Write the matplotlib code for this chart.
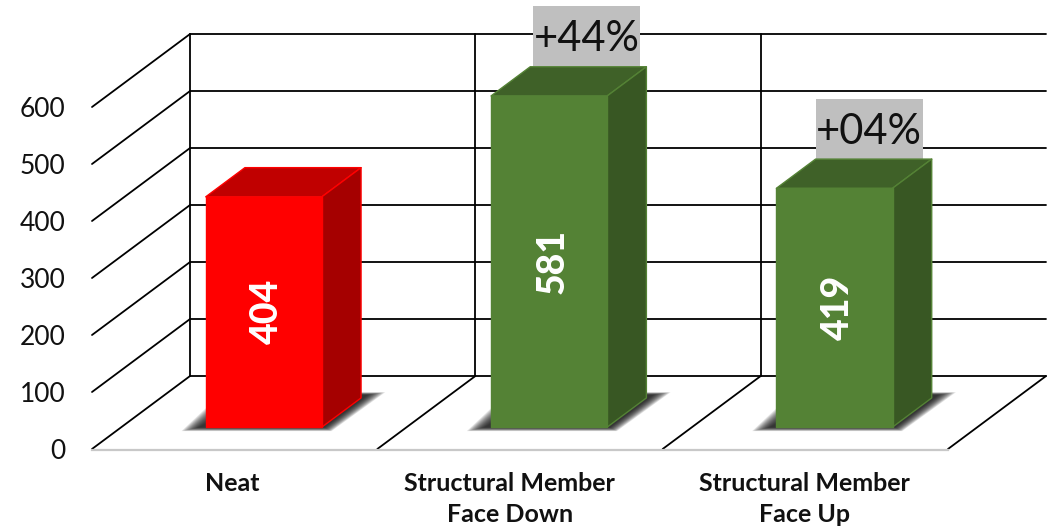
import matplotlib.pyplot as plt
from matplotlib.patches import Polygon, Rectangle

plt.rcParams['font.family'] = ['Lato', 'DejaVu Sans']

categories = ['Neat', 'Structural Member\nFace Down', 'Structural Member\nFace Up']
values = [404, 581, 419]
changes = [None, '+44%', '+04%']
yticks = [0, 100, 200, 300, 400, 500, 600]

face_colors = ['#ff0000', '#548235', '#548235']
top_colors = ['#c00000', '#3f6128', '#3f6128']
side_colors = ['#a50000', '#385723', '#385723']

# depth of the fake 3d box, in data units
DX = 0.3435
DY = 128
BAR_W = 0.407
D0, D1 = 0.30, 0.70


def proj(x, y, d):
    return (x + d * DX, y + d * DY)


fig = plt.figure(figsize=(10.53, 5.30), dpi=100)
ax = fig.add_axes([92 / 1053, 81 / 530, 856 / 1053, 342 / 530])
ax.set_xlim(0, 3)
ax.set_ylim(0, 600)
for s in ax.spines.values():
    s.set_visible(False)

ax.set_yticks(yticks)
ax.tick_params(axis='y', length=0, labelsize=19, pad=19, labelcolor='#111111')
ax.set_xticks([])

# walls and floor
line = dict(color='black', lw=1.3, clip_on=False, zorder=1, solid_capstyle='round')
for t in yticks:
    ax.plot(*zip(proj(0, t, 0), proj(0, t, 1)), **line)
    ax.plot(*zip(proj(0, t, 1), proj(3, t, 1)), **line)
for i in range(1, 4):
    ax.plot(*zip(proj(i, 0, 0), proj(i, 0, 1)), **line)
for i in range(0, 3):
    ax.plot(*zip(proj(i, 0, 1), proj(i, 600, 1)), **line)
ax.plot([0, 3], [-1, -1], color='#c8c8c8', lw=1.6, clip_on=False, zorder=1)

box_shift = [0, -0.006, -0.016]

for i, v in enumerate(values):
    x0 = i + 0.5 - BAR_W / 2 - 0.001
    x1 = x0 + BAR_W

    # soft shadow on the floor, stacked translucent layers
    for k in range(14):
        f = 1 - k / 14
        g = 0.02 + 0.065 * f
        low = -7 * f
        shadow = [proj(x0 - g, low, D0), proj(x1 + g * 0.4, low, D0),
                  proj(x1 + g, 5 + 5 * f, D1), proj(x1, 5 + 5 * f, D1),
                  proj(x0, 5 + 28 * f, D0)]
        ax.add_patch(Polygon(shadow, fc='black', ec='none', alpha=0.1,
                             clip_on=False, zorder=2))

    top = [proj(x0, v, D0), proj(x1, v, D0), proj(x1, v, D1), proj(x0, v, D1)]
    side = [proj(x1, 0, D0), proj(x1, 0, D1), proj(x1, v, D1), proj(x1, v, D0)]
    front = [proj(x0, 0, D0), proj(x1, 0, D0), proj(x1, v, D0), proj(x0, v, D0)]
    for pts, c in ((top, top_colors[i]), (side, side_colors[i]), (front, face_colors[i])):
        ax.add_patch(Polygon(pts, fc=c, ec=face_colors[i], lw=1.0, clip_on=False,
                             joinstyle='round', zorder=4))

    cx, cy = proj((x0 + x1) / 2 + 0.012, v / 2 + 1, D0)
    ax.text(cx, cy, str(v), color='white', fontsize=27, fontweight='black', rotation=90,
            ha='center', va='center', zorder=6)

    if changes[i]:
        # grey box resting on the back edge of the bar top
        bx, by = proj((x0 + x1) / 2 + box_shift[i], v + 1, D1)
        ax.add_patch(Rectangle((bx - 0.1875, by), 0.375, 105, fc='#bfbfbf', ec='none',
                               clip_on=False, zorder=3))
        ax.text(bx, by + 47, changes[i], ha='center', va='center', fontsize=30,
                color='#111111', zorder=5, clip_on=False)

# category labels sit a little left of the slot centres
label_x = [0.49, 1.464, 2.498]
for lx, name in zip(label_x, categories):
    ax.text(lx, -41, name, ha='center', va='top', fontsize=18, fontweight='bold',
            color='#111111', linespacing=1.42, clip_on=False)

fig.savefig('out.png', dpi=100)
